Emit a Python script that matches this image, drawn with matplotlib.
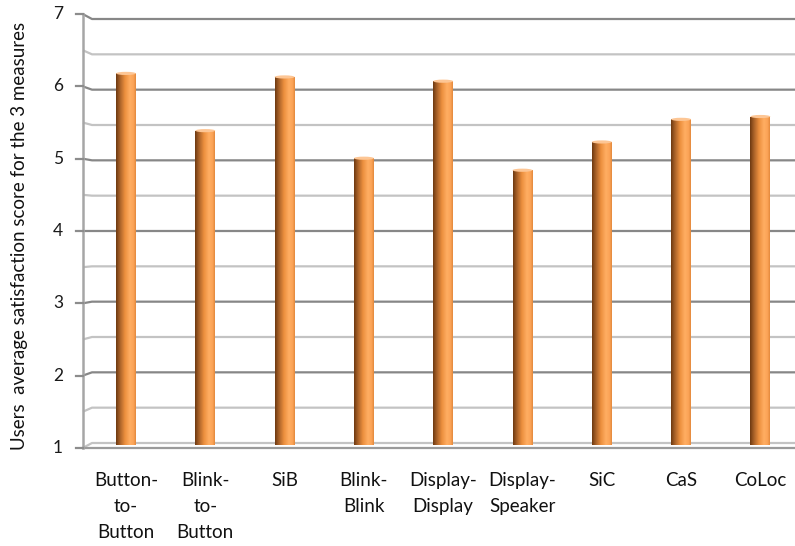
import numpy as np
import matplotlib
matplotlib.use("Agg")
import matplotlib.pyplot as plt
from matplotlib.colors import LinearSegmentedColormap
from matplotlib.patches import Ellipse

# Data
categories = ["Button-\nto-\nButton", "Blink-\nto-\nButton", "SiB", "Blink-\nBlink",
              "Display-\nDisplay", "Display-\nSpeaker", "SiC", "CaS", "CoLoc"]
scores = [6.23, 5.42, 6.18, 5.03, 6.12, 4.86, 5.26, 5.58, 5.62]
y_ticks = [1, 2, 3, 4, 5, 6, 7]
y_label = "Users  average satisfaction score for the 3 measures"

plt.rcParams["font.family"] = ["Lato", "DejaVu Sans"]

W, H = 795, 546
fig = plt.figure(figsize=(W / 100, H / 100), dpi=100)
ax = fig.add_axes([83 / W, (H - 443) / H, 712 / W, 424 / H])

x = np.arange(len(categories))
x0 = -0.542
x1 = x0 + 712 / 79.3
ax.set_xlim(x0, x1)
ax.set_ylim(1, 7)
ax.axis("off")

# front axis scale is slightly stretched relative to the back wall
def front(v):
    return 4 + (v - 4) * (72.3 / 70.7)

x_wall = x0 + 9 / 79.3
major_c = "#878787"
minor_c = "#c3c3c3"

# wall gridlines with perspective stub at the left
for v in np.arange(1.5, 7.01, 0.5):
    is_major = float(v).is_integer()
    col = major_c if is_major else minor_c
    ax.plot([x0, x_wall, x1], [front(v), v, v], color=col, lw=1.6,
            solid_capstyle="butt", clip_on=False, zorder=1)

# floor edges
ax.plot([x0, x_wall, x1], [front(1), 1, 1], color=minor_c, lw=1.6, clip_on=False, zorder=1)
ax.plot([x0, x1], [front(1), front(1)], color="#9a9a9a", lw=1.6, clip_on=False, zorder=1)

# vertical axis line and ticks
ax.plot([x0, x0], [front(1), front(7)], color="#a6a6a6", lw=1.8, clip_on=False, zorder=3)
tick_len = 7 / 79.3
for v in y_ticks:
    ax.plot([x0 - tick_len, x0], [front(v), front(v)], color="#8c8c8c", lw=1.6,
            clip_on=False, zorder=3)
    ax.text(x0 - 20 / 79.3, front(v), str(v), ha="right", va="center",
            fontsize=12.5, color="#1a1a1a")

# cylinder-shaded bars
base = front(1) + 0.04
bar_w = 0.25
bars = ax.bar(x, np.array(scores) - base, bottom=base, width=bar_w,
              color="none", edgecolor="none", zorder=4)
shade = LinearSegmentedColormap.from_list(
    "cyl", [(0.0, "#6b3810"), (0.18, "#a45e27"), (0.45, "#ec8f3e"),
            (0.7, "#ffae62"), (0.88, "#fca458"), (1.0, "#e2883b")])
grad = np.linspace(0, 1, 256).reshape(1, -1)
for rect, v in zip(bars, scores):
    bx = rect.get_x()
    im = ax.imshow(grad, cmap=shade, aspect="auto", interpolation="bilinear",
                   extent=[bx, bx + bar_w, base, v], zorder=5)
    im.set_clip_path(rect)
    ax.add_patch(Ellipse((bx + bar_w / 2, v), bar_w, 0.045,
                         facecolor="#fdc695", edgecolor="none", zorder=6))

# category labels
for xi, lab in zip(x, categories):
    ax.text(xi, 0.585, lab, ha="center", va="top", fontsize=13.5,
            linespacing=1.62, color="#111111")

fig.text(20 / W, 1 - 236 / H, y_label, rotation=90, ha="center", va="center",
         fontsize=13.5, color="#111111")

ax.set_xlim(x0, x1)
ax.set_ylim(1, 7)
fig.savefig("out.png", dpi=100, facecolor="white")
